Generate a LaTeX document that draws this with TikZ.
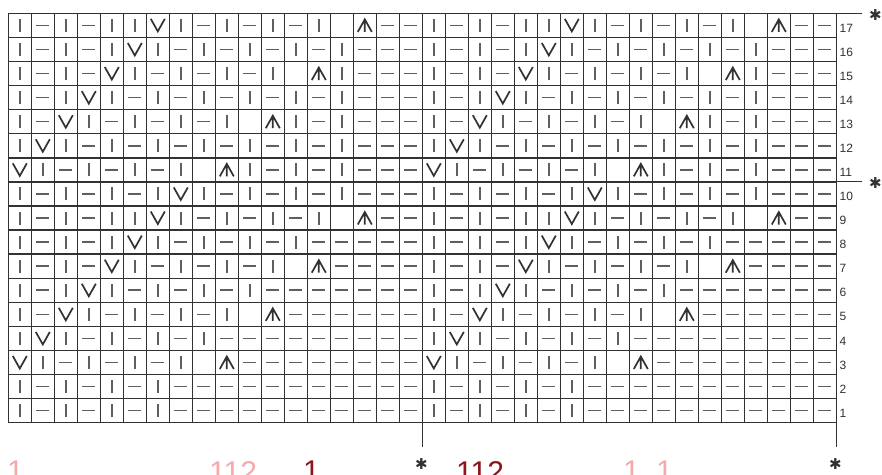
\documentclass[tikz,border=0pt]{standalone}
\usepackage{fontspec}
\setsansfont{Liberation Sans}
\newfontfamily\starfont{DejaVu Sans}
\definecolor{gridgray}{RGB}{50,50,50}
\definecolor{stgray}{RGB}{95,95,95}
\definecolor{capink}{RGB}{244,170,170}
\definecolor{capred}{RGB}{140,22,28}
\tikzset{
  pics/k/.style={code={\draw[stgray, line width=1.6pt] (0,-6.5) -- (0,6.5);}},
  pics/p/.style={code={\draw[stgray, line width=1.6pt] (-6.5,0) -- (6.5,0);}},
  pics/v/.style={code={\draw[gridgray, line width=1.7pt] (-7,6.5) -- (0,-6) -- (7,6.5);}},
  pics/a/.style={code={\draw[gridgray, line width=1.7pt] (-7,-6.5) -- (0,6) -- (7,-6.5) (0,6) -- (0,-6.5);}},
  pics/n/.style={code={}},
}

\begin{document}
\begin{tikzpicture}[x=1pt, y=1pt, gridline/.style={gridgray, line width=1.4pt}]
 \useasboundingbox (0,0) rectangle (882,474);
 \fill[white] (0,0) rectangle (882,474);
 \foreach \i in {0,...,36}
  \draw[gridline] ({8.3+23*\i},51.3) -- ({8.3+23*\i},460.7);
 \foreach \j in {0,...,17}
  \draw[gridline] (8.3,{51.3+24.08*\j}) -- (836.3,{51.3+24.08*\j});
 \foreach \r/\pat in {
   1/{k,p,k,p,k,p,k,p,p,p,p,p,p,p,p,p,p,p},
   2/{k,p,k,p,k,p,k,p,p,p,p,p,p,p,p,p,p,p},
   3/{v,k,p,k,p,k,p,k,n,a,p,p,p,p,p,p,p,p},
   4/{k,v,k,p,k,p,k,p,k,p,p,p,p,p,p,p,p,p},
   5/{k,p,v,k,p,k,p,k,p,k,n,a,p,p,p,p,p,p},
   6/{k,p,k,v,k,p,k,p,k,p,k,p,p,p,p,p,p,p},
   7/{k,p,k,p,v,k,p,k,p,k,p,k,n,a,p,p,p,p},
   8/{k,p,k,p,k,v,k,p,k,p,k,p,k,p,p,p,p,p},
   9/{k,p,k,p,k,k,v,k,p,k,p,k,p,k,n,a,p,p},
   10/{k,p,k,p,k,p,k,v,k,p,k,p,k,p,k,p,p,p},
   11/{v,k,p,k,p,k,p,k,n,a,k,p,k,p,k,p,p,p},
   12/{k,v,k,p,k,p,k,p,k,p,k,p,k,p,k,p,p,p},
   13/{k,p,v,k,p,k,p,k,p,k,n,a,k,p,k,p,p,p},
   14/{k,p,k,v,k,p,k,p,k,p,k,p,k,p,k,p,p,p},
   15/{k,p,k,p,v,k,p,k,p,k,p,k,n,a,k,p,p,p},
   16/{k,p,k,p,k,v,k,p,k,p,k,p,k,p,k,p,p,p},
   17/{k,p,k,p,k,k,v,k,p,k,p,k,p,k,n,a,p,p}}
  \foreach \s [count=\c] in \pat {
   \pic at ({8.3+23*(\c-0.5)},{51.3+24.08*(\r-0.5)}) {\s};
   \pic at ({8.3+23*(\c+17.5)},{51.3+24.08*(\r-0.5)}) {\s};
  };
 \begin{scope}[every node/.style={anchor=west, inner sep=0pt, font=\sffamily\fontsize{12}{14}\selectfont, text=gridgray}]
  \foreach \r in {1,...,17}
   \node (row\r) at (839.5,{51.3+24.08*(\r-0.5)-2.5}) {\r};
 \end{scope}
 \begin{scope}[every node/.style={inner sep=0pt, font=\starfont\fontsize{15}{17}\selectfont, text=gridgray}]
  \node (star17) at (875.5,459) {✱};
  \node (star10) at (875.5,291) {✱};
  \node (starmid) at (421.5,10) {✱};
  \node (starend) at (835.5,10) {✱};
 \end{scope}
 \coordinate (top17) at (836.3,460.7);
 \coordinate (end17) at (862,460.7);
 \coordinate (top10) at (836.3,292.1);
 \coordinate (end10) at (862,292.1);
 \coordinate (botmid) at (422.3,51.3);
 \coordinate (endmid) at (422.3,27);
 \coordinate (botend) at (836.3,51.3);
 \coordinate (endend) at (836.3,27);
 \path [-, draw=gridgray, line width=1.2pt] (top17) edge (end17);
 \path [-, draw=gridgray, line width=1.2pt] (top10) edge (end10);
 \path [-, draw=gridgray, line width=1.2pt] (botmid) edge (endmid);
 \path [-, draw=gridgray, line width=1.2pt] (botend) edge (endend);
 \begin{scope}
  \clip (0,0) rectangle (882,474);
  \begin{scope}[every node/.style={anchor=north west, inner sep=0pt, font=\sffamily\fontsize{30}{32}\selectfont}]
   \node[text=capink] (cap1) at (7,13) {1};
   \node[text=capink] (cap2) at (209,13) {112};
   \node[text=capred] (cap3) at (303,13) {1};
   \node[text=capred] (cap4) at (456,13) {112};
   \node[text=capink] (cap5) at (623,13) {1};
   \node[text=capink] (cap6) at (656,13) {1};
  \end{scope}
 \end{scope}
\end{tikzpicture}
\end{document}
